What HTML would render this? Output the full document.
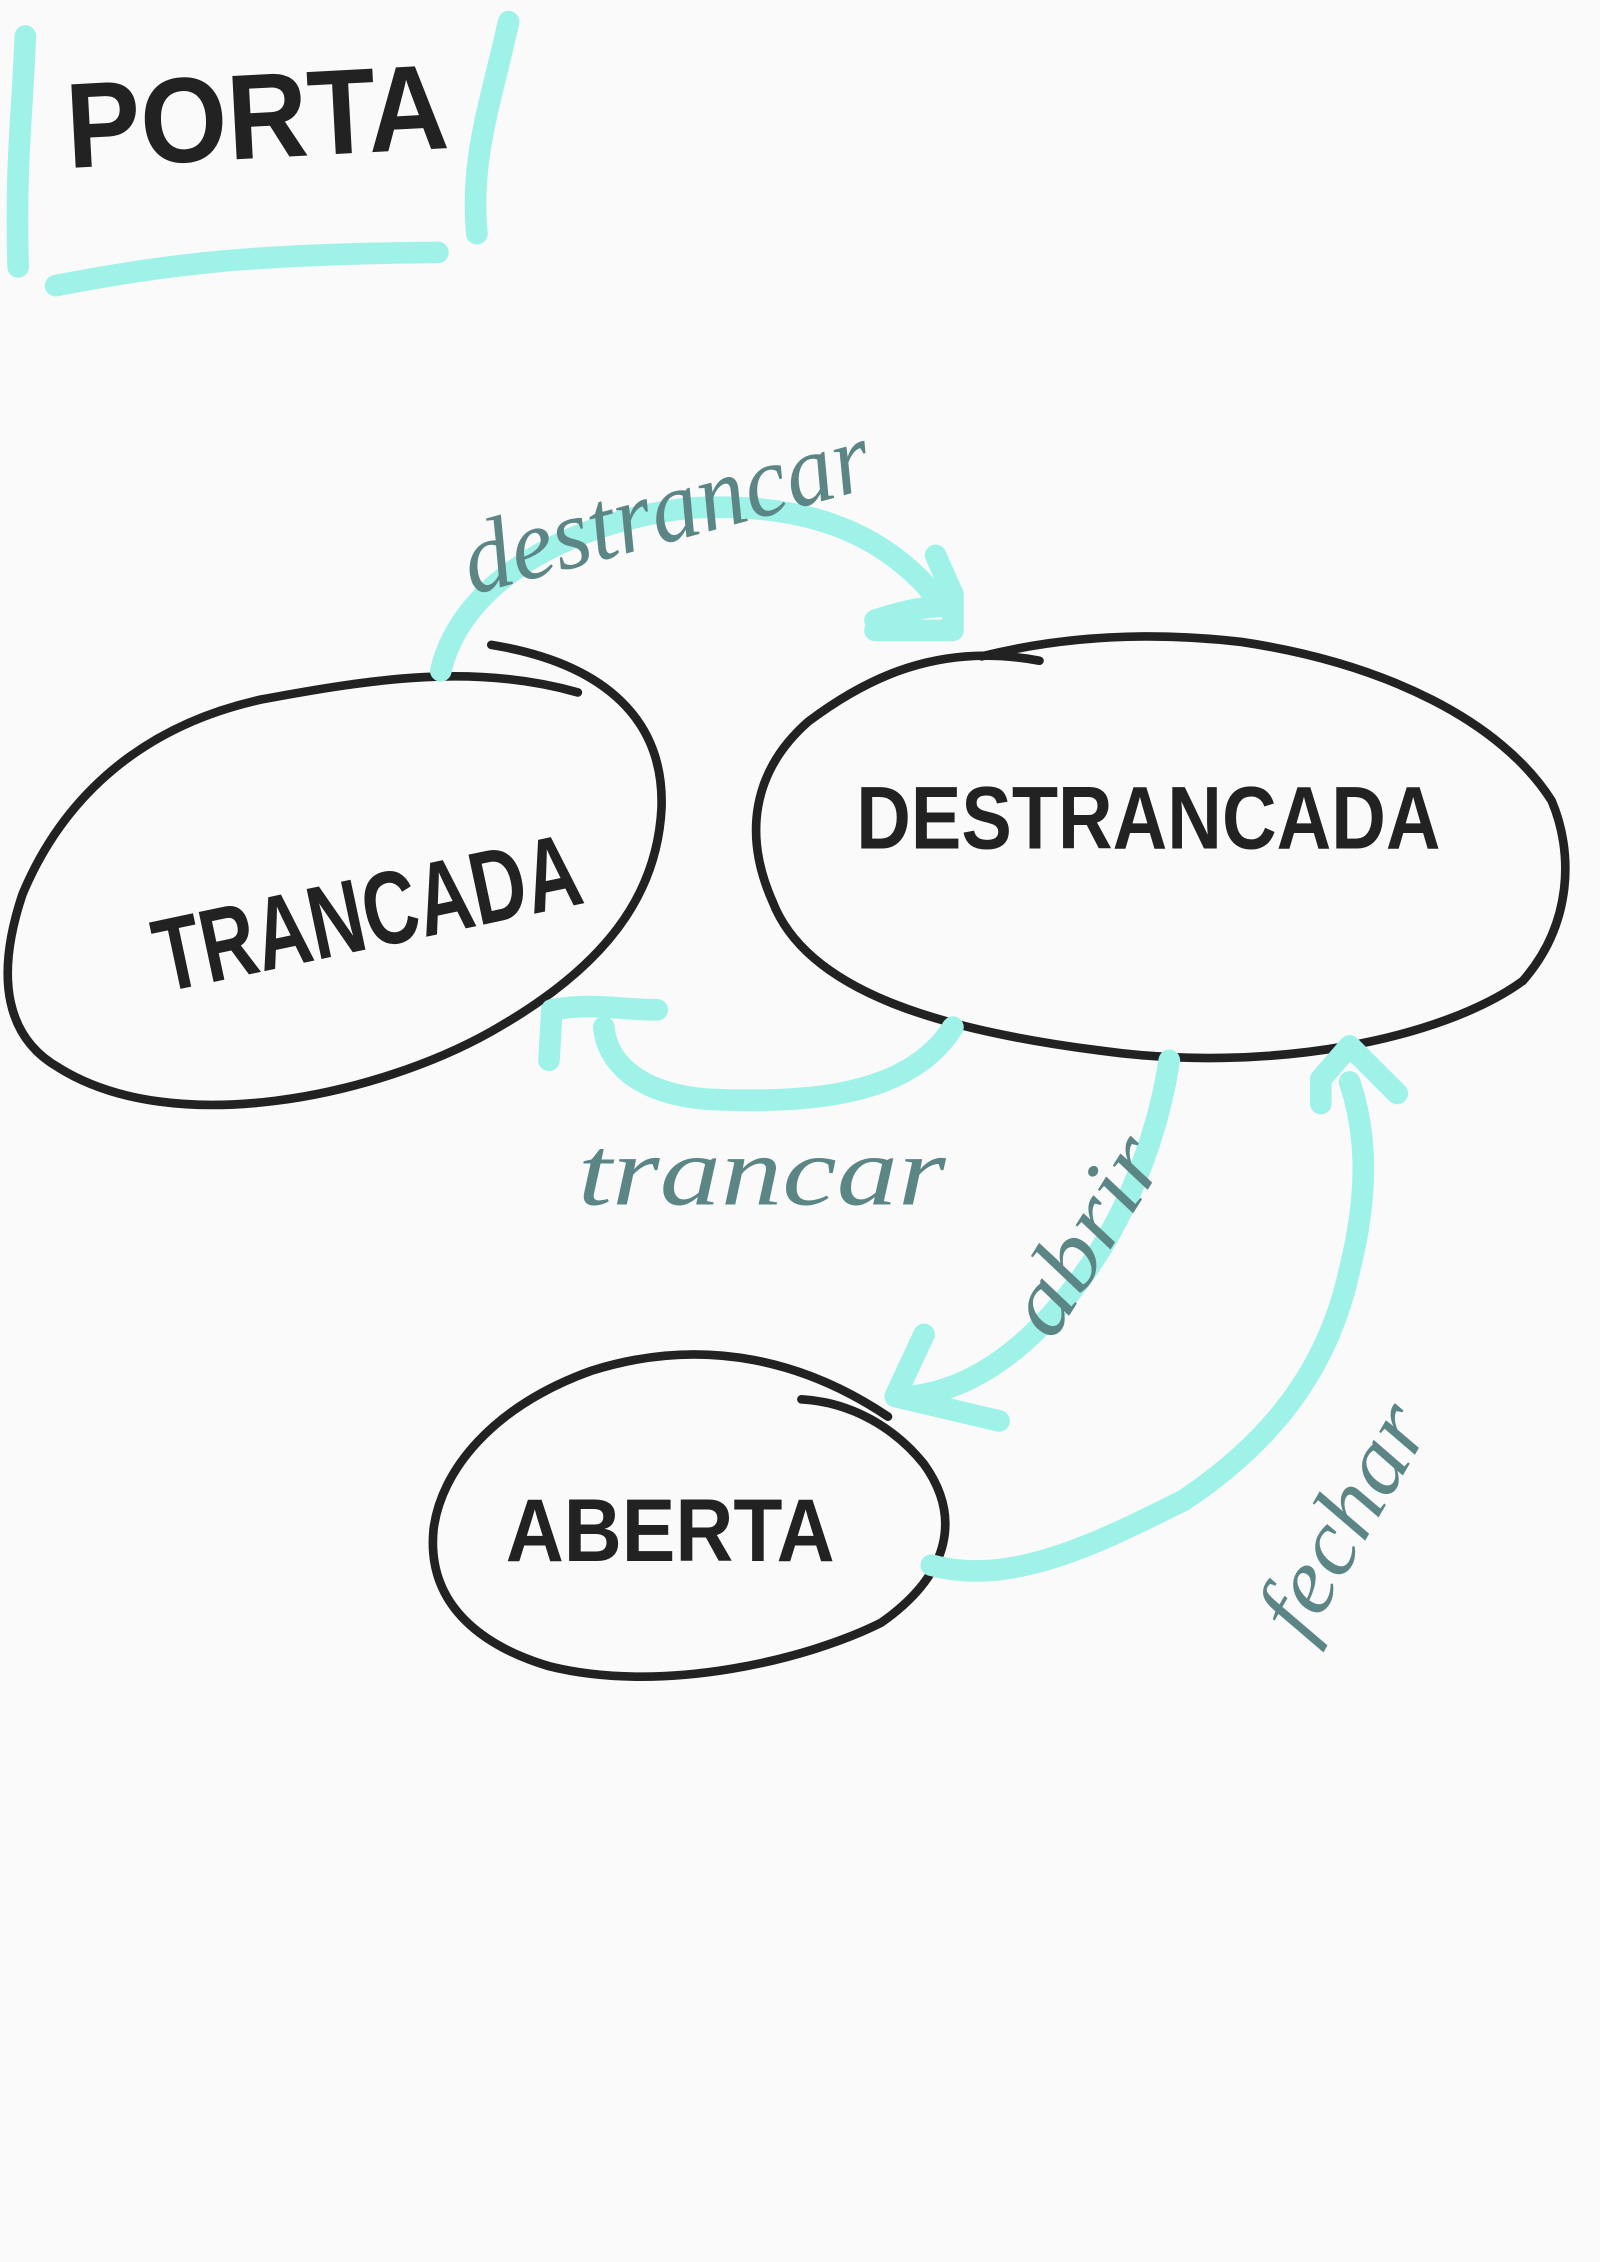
<!DOCTYPE html>
<html><head><meta charset="utf-8"><style>
html,body{margin:0;padding:0;background:#fafafa;}
svg{display:block;}
.cy{fill:none;stroke:#9ff2e8;stroke-width:15;stroke-linecap:round;stroke-linejoin:round;}
.el{fill:none;stroke:#222;stroke-width:6;stroke-linecap:round;}
.big{font-family:"Liberation Sans",sans-serif;font-weight:bold;fill:#222;}
.lab{font-family:"Liberation Serif",serif;font-style:italic;fill:#5c8585;}
</style></head><body>
<svg width="1600" height="2262" viewBox="0 0 1108 1568" xmlns="http://www.w3.org/2000/svg">
<rect width="1108" height="1568" fill="#fafafa"/>
<path class="cy" d="M17 25 C15 80 10 110 12 185"/>
<path class="cy" d="M38 198 C120 182 180 176 303 175"/>
<path class="cy" d="M352 15 C340 70 325 110 330 162"/>
<text class="big" x="45" y="110" font-size="84" textLength="265" lengthAdjust="spacingAndGlyphs" transform="rotate(-3 170 80)">PORTA</text>

<path class="el" d="M400 480 C330 460 260 470 180 485 C90 505 40 560 15 620 C-5 680 5 720 40 740 C120 790 260 760 340 715 C420 670 455 620 458 560 C460 500 420 460 340 447"/>
<text class="big" x="100" y="660" font-size="72" textLength="300" lengthAdjust="spacingAndGlyphs" transform="rotate(-12 240 615)">TRANCADA</text>

<path class="el" d="M720 458 C650 445 600 470 560 500 C520 535 515 580 535 625 C560 690 660 715 760 728 C880 745 1000 720 1055 680 C1090 640 1090 590 1075 555 C1040 500 960 460 860 445 C800 438 740 440 680 455"/>
<text class="big" x="593" y="588" font-size="62" textLength="405" lengthAdjust="spacingAndGlyphs">DESTRANCADA</text>

<path class="el" d="M615 982 C560 945 490 925 410 950 C340 975 305 1020 300 1060 C295 1110 330 1140 380 1155 C460 1175 560 1150 610 1125 C660 1090 665 1050 640 1015 C620 990 590 972 555 970"/>
<text class="big" x="350" y="1082" font-size="62" textLength="228" lengthAdjust="spacingAndGlyphs">ABERTA</text>

<path class="cy" d="M305 465 C320 400 400 360 480 352 C560 348 610 370 645 410"/>
<path class="cy" d="M648 385 L660 412 L660 437 L606 437 M606 430 C630 422 645 420 660 420"/>
<text class="lab" x="310" y="375" font-size="70" textLength="290" lengthAdjust="spacingAndGlyphs" transform="rotate(-15 460 330)">destrancar</text>

<path class="cy" d="M660 712 C630 760 560 765 490 762 C440 758 420 735 418 712"/>
<path class="cy" d="M380 735 L382 700 C410 695 430 700 455 700"/>
<text class="lab" x="400" y="835" font-size="68" textLength="255" lengthAdjust="spacingAndGlyphs">trancar</text>

<path class="cy" d="M810 735 C800 800 770 870 720 920 C690 950 660 965 630 968"/>
<path class="cy" d="M640 925 L620 968 L692 985"/>
<text class="lab" x="665" y="905" font-size="64" textLength="150" lengthAdjust="spacingAndGlyphs" transform="rotate(-58 720 860)">abrir</text>

<path class="cy" d="M645 1085 C700 1100 760 1070 820 1040 C880 1000 920 950 935 880 C950 820 945 780 935 750"/>
<path class="cy" d="M915 765 L915 748 L935 725 L968 758"/>
<text class="lab" x="830" y="1090" font-size="64" textLength="175" lengthAdjust="spacingAndGlyphs" transform="rotate(-60 910 1050)">fechar</text>
</svg>
</body></html>
